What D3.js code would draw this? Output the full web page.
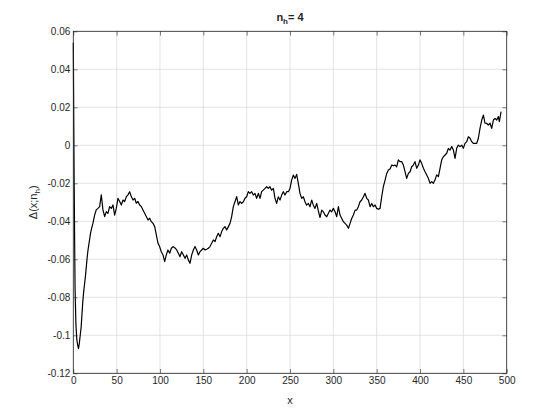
<!DOCTYPE html>
<html lang="en">
<head>
    <meta charset="UTF-8">
    <title>n_h = 4</title>
    <style>
        body{
            margin: 0;
            background: white;
        }
        svg{
            display: block;
        }
        text{
            font-family: "Liberation Sans", Arial, Helvetica, sans-serif;
            fill: #262626;
        }
    </style>
    <script src="https://cdn.jsdelivr.net/npm/d3@7"></script>
</head>
<body>
<script>
    // values
    const xValues = [
        0, 1, 2, 3, 4, 5, 6, 7, 8, 9, 10, 11, 12, 13, 14, 15, 16, 17, 18, 19, 20, 21,
        22.7, 24.6, 26.5, 28.5, 30.4, 32.3, 34.2, 36.2, 38.1, 40.0, 41.9, 43.9, 45.8, 47.7, 49.6,
        51.5, 53.5, 55.4, 57.3, 59.2, 61.2, 63.1, 65.0, 66.9, 68.9, 70.8, 72.7, 74.6, 76.5, 78.5,
        80.4, 82.3, 84.2, 86.2, 88.1, 90.0, 91.9, 93.9, 95.8, 97.7, 99.6, 101.5, 103.5, 105.4,
        107.3, 109.2, 111.2, 113.1, 115.0, 117.3, 119.3, 121.2, 123.1, 125.0, 127.0, 128.9, 130.8,
        132.7, 134.6, 136.6, 138.5, 140.4, 142.3, 144.3, 146.2, 148.1, 150.0, 152.0, 153.9, 155.8,
        157.7, 159.6, 161.6, 163.5, 165.4, 167.3, 169.3, 171.2, 173.1, 175.0, 177.0, 178.9, 180.8,
        182.7, 184.6, 186.6, 188.5, 190.4, 192.3, 194.2, 196.2, 198.1, 200.0, 201.9, 203.8, 205.8,
        207.7, 209.6, 211.5, 213.5, 215.4, 217.3, 219.2, 221.2, 223.1, 225.0, 226.9, 228.8, 230.8,
        232.7, 234.6, 236.5, 238.5, 240.4, 242.3, 244.2, 246.2, 248.1, 250.0, 251.9, 253.8, 255.8,
        257.7, 259.6, 261.5, 263.5, 265.4, 267.3, 269.2, 271.2, 273.1, 275.0, 276.9, 278.8, 280.8,
        282.7, 284.6, 286.6, 288.5, 290.4, 292.4, 294.3, 296.2, 298.1, 300.0, 302.0, 303.9, 305.8,
        307.7, 309.7, 311.6, 313.5, 315.4, 317.4, 319.3, 321.2, 323.1, 325.1, 327.0, 328.9, 330.8,
        332.7, 334.7, 336.6, 338.5, 340.4, 342.4, 344.3, 346.2, 348.1, 350.0, 352.0, 353.9, 355.8,
        357.7, 359.7, 361.6, 363.5, 365.4, 367.4, 369.3, 371.2, 373.1, 375.0, 376.9, 378.9, 380.8,
        382.7, 384.6, 386.6, 388.5, 390.4, 392.3, 394.2, 396.2, 398.1, 400.0, 401.9, 403.9, 405.8,
        407.7, 409.6, 411.6, 413.5, 415.4, 417.3, 419.2, 421.2, 423.1, 425.0, 426.9, 428.9, 430.8,
        432.7, 434.6, 436.6, 438.5, 440.4, 442.3, 444.2, 446.2, 448.1, 450.0, 451.9, 453.9, 455.8,
        457.7, 459.6, 461.5, 463.5, 465.4, 467.3, 469.2, 471.2, 473.1, 475.0, 476.9, 478.8, 480.8,
        482.7, 484.6, 486.5, 488.5, 490.4, 491.5, 493.5
    ]
    const deltaValues = [
        0.054, -0.02, -0.075, -0.094, -0.102, -0.105, -0.107, -0.104, -0.100, -0.096, -0.089,
        -0.082, -0.077, -0.073, -0.069, -0.064, -0.059, -0.055, -0.052, -0.049, -0.046, -0.044,
        -0.0410, -0.0367, -0.0340, -0.0332, -0.0323, -0.0261, -0.0340, -0.0375, -0.0349, -0.0358,
        -0.0323, -0.0332, -0.0314, -0.0367, -0.0332, -0.0279, -0.0296, -0.0314, -0.0288, -0.0296,
        -0.0270, -0.0261, -0.0244, -0.0270, -0.0288, -0.0279, -0.0305, -0.0296, -0.0314, -0.0323,
        -0.0340, -0.0358, -0.0375, -0.0393, -0.0384, -0.0402, -0.0410, -0.0428, -0.0472, -0.0516,
        -0.0533, -0.0560, -0.0577, -0.0612, -0.0577, -0.0551, -0.0568, -0.0542, -0.0533, -0.0540,
        -0.0551, -0.0568, -0.0586, -0.0560, -0.0577, -0.0595, -0.0577, -0.0603, -0.0621, -0.0577,
        -0.0551, -0.0533, -0.0551, -0.0577, -0.0560, -0.0551, -0.0542, -0.0551, -0.0547, -0.0542,
        -0.0533, -0.0516, -0.0498, -0.0507, -0.0481, -0.0463, -0.0481, -0.0454, -0.0437, -0.0428,
        -0.0446, -0.0428, -0.0411, -0.0375, -0.0323, -0.0296, -0.0270, -0.0314, -0.0296, -0.0306,
        -0.0297, -0.0279, -0.0271, -0.0244, -0.0253, -0.0244, -0.0262, -0.0253, -0.0279, -0.0253,
        -0.0279, -0.0244, -0.0236, -0.0227, -0.0218, -0.0227, -0.0218, -0.0236, -0.0227, -0.0279,
        -0.0306, -0.0271, -0.0288, -0.0262, -0.0244, -0.0262, -0.0244, -0.0244, -0.0227, -0.0183,
        -0.0157, -0.0174, -0.0153, -0.0200, -0.0253, -0.0279, -0.0271, -0.0297, -0.0315, -0.0306,
        -0.0323, -0.0288, -0.0315, -0.0332, -0.0306, -0.0345, -0.0380, -0.0341, -0.0350, -0.0367,
        -0.0376, -0.0358, -0.0341, -0.0350, -0.0332, -0.0350, -0.0376, -0.0323, -0.0367, -0.0385,
        -0.0402, -0.0411, -0.0420, -0.0437, -0.0411, -0.0385, -0.0367, -0.0341, -0.0341, -0.0323,
        -0.0297, -0.0288, -0.0271, -0.0253, -0.0279, -0.0288, -0.0323, -0.0306, -0.0323, -0.0314,
        -0.0332, -0.0337, -0.0332, -0.0271, -0.0218, -0.0183, -0.0148, -0.0130, -0.0125, -0.0104,
        -0.0108, -0.0104, -0.0113, -0.0077, -0.0086, -0.0086, -0.0104, -0.0139, -0.0174, -0.0148,
        -0.0139, -0.0113, -0.0104, -0.0086, -0.0121, -0.0104, -0.0077, -0.0095, -0.0121, -0.0139,
        -0.0156, -0.0174, -0.0200, -0.0191, -0.0200, -0.0183, -0.0156, -0.0165, -0.0121, -0.0077,
        -0.0060, -0.0051, -0.0042, -0.0016, -0.0025, -0.0007, -0.0025, -0.0069, -0.0016, 0.0001,
        -0.0007, 0.0001, -0.0016, 0.0010, 0.0019, 0.0045, 0.0037, 0.0019, 0.0010, 0.0010, 0.0010,
        0.0037, 0.0089, 0.0133, 0.0159, 0.0116, 0.0116, 0.0107, 0.0116, 0.0089, 0.0133, 0.0142,
        0.0133, 0.0151, 0.0124, 0.0177
    ]
    const xTicks = [0, 50, 100, 150, 200, 250, 300, 350, 400, 450, 500]
    const yTicks = [-0.12, -0.1, -0.08, -0.06, -0.04, -0.02, 0, 0.02, 0.04, 0.06]

    const width = 560
    const height = 420
    const margin = {left: 73.3, right: 53.3, top: 31.3, bottom: 46.7}
    const plotW = width - margin.left - margin.right
    const plotH = height - margin.top - margin.bottom
    const axisColor = "#262626"

    const points = xValues.map((x, i) => ({x: x, y: deltaValues[i]}))

    let svg = d3.select("body").append("svg")
        .attr("width", width)
        .attr("height", height)

    const xScale = d3.scaleLinear().domain([0, 500]).range([0, plotW])
    const yScale = d3.scaleLinear().domain([-0.12, 0.06]).range([plotH, 0])

    let g = svg.append("g")
        .attr("transform", `translate(${margin.left},${margin.top})`)

    //grid
    g.append("g").selectAll("line")
        .data(xTicks)
        .enter().append("line")
        .attr("x1", d => xScale(d)).attr("x2", d => xScale(d))
        .attr("y1", 0).attr("y2", plotH)
        .attr("stroke", "#dcdcdc").attr("stroke-width", 0.8)
    g.append("g").selectAll("line")
        .data(yTicks)
        .enter().append("line")
        .attr("x1", 0).attr("x2", plotW)
        .attr("y1", d => yScale(d)).attr("y2", d => yScale(d))
        .attr("stroke", "#dcdcdc").attr("stroke-width", 0.8)

    //the curve
    const line = d3.line().x(d => xScale(d.x)).y(d => yScale(d.y))
    g.append("path")
        .datum(points)
        .attr("d", line)
        .attr("fill", "none")
        .attr("stroke", "black")
        .attr("stroke-width", 1.2)
        .attr("stroke-linejoin", "round")

    //axes, ticks pointing inwards like matlab
    const yFmt = d => d === 0 ? "0" : String(+d.toFixed(2))
    const tick = 4.3

    const styleAxis = sel => {
        sel.select(".domain").remove()
        sel.selectAll("line").attr("stroke", axisColor).attr("stroke-width", 0.6)
        sel.selectAll("text").attr("fill", axisColor)
            .style("font-size", "10px")
            .style("font-family", '"Liberation Sans", Arial, Helvetica, sans-serif')
    }

    g.append("g")
        .attr("transform", `translate(0,${plotH})`)
        .call(d3.axisBottom(xScale).tickValues(xTicks).tickSizeInner(-tick).tickSizeOuter(0).tickPadding(4))
        .call(styleAxis)
    g.append("g")
        .call(d3.axisTop(xScale).tickValues(xTicks).tickSizeInner(-tick).tickSizeOuter(0).tickFormat(""))
        .call(styleAxis)
    g.append("g")
        .call(d3.axisLeft(yScale).tickValues(yTicks).tickSizeInner(-tick).tickSizeOuter(0).tickPadding(3).tickFormat(yFmt))
        .call(styleAxis)
    g.append("g")
        .attr("transform", `translate(${plotW},0)`)
        .call(d3.axisRight(yScale).tickValues(yTicks).tickSizeInner(-tick).tickSizeOuter(0).tickFormat(""))
        .call(styleAxis)

    //box
    g.append("rect")
        .attr("width", plotW).attr("height", plotH)
        .attr("fill", "none")
        .attr("stroke", axisColor)
        .attr("stroke-width", 0.8)

    //title
    let title = svg.append("text")
        .attr("x", margin.left + plotW / 2)
        .attr("y", 20.5)
        .attr("text-anchor", "middle")
        .style("font-size", "11px")
        .style("font-weight", "bold")
        .attr("fill", "black")
    title.append("tspan").text("n")
    title.append("tspan").text("h").attr("dy", 3).style("font-size", "8px")
    title.append("tspan").text("= 4").attr("dy", -3)

    //x label
    svg.append("text")
        .attr("x", margin.left + plotW / 2)
        .attr("y", 404)
        .attr("text-anchor", "middle")
        .style("font-size", "11px")
        .text("x")

    //y label
    let ylab = svg.append("text")
        .attr("transform", `translate(37,${margin.top + plotH / 2}) rotate(-90)`)
        .attr("text-anchor", "middle")
        .style("font-size", "11px")
    ylab.append("tspan").text("\u0394(x;n")
    ylab.append("tspan").text("h").attr("dy", 3).style("font-size", "8px")
    ylab.append("tspan").text(")").attr("dy", -3)
</script>
</body>
</html>
